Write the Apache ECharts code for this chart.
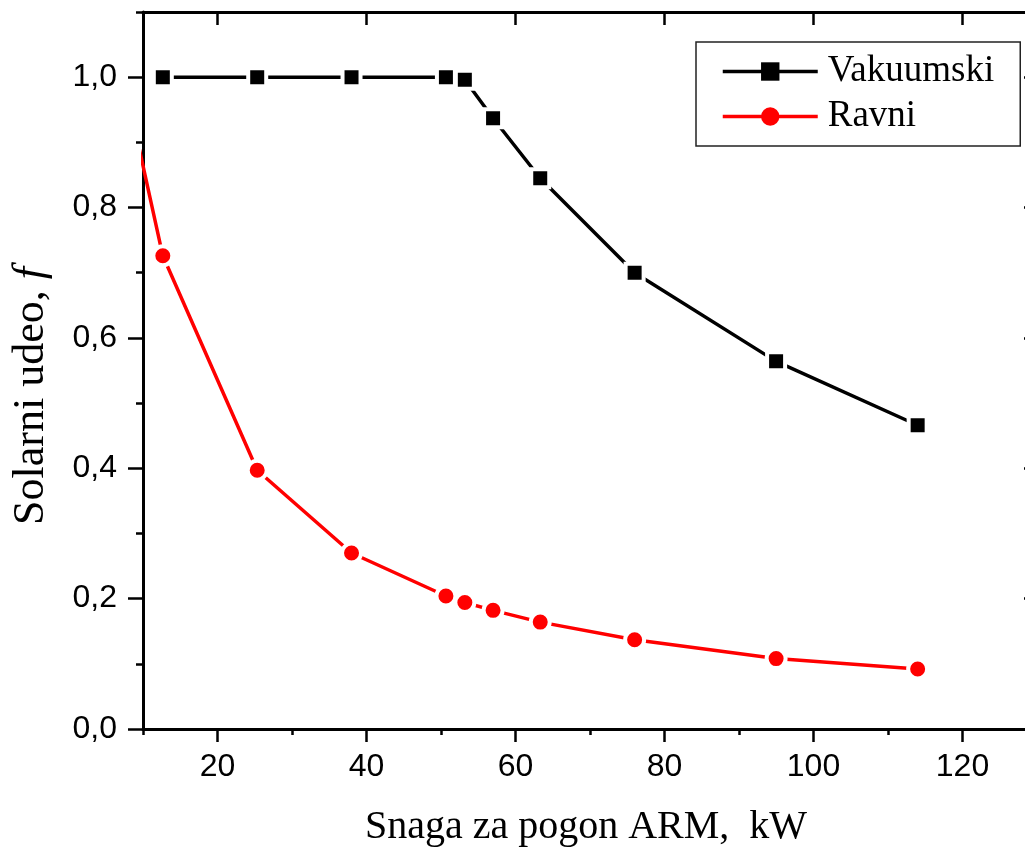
<!DOCTYPE html>
<html>
<head>
<meta charset="utf-8">
<script src="https://cdn.jsdelivr.net/npm/echarts@6/dist/echarts.min.js"></script>
<style>
  html, body { margin: 0; padding: 0; background: #fff; }
  #chart { width: 1025px; height: 852px; }
</style>
</head>
<body>
<div id="chart"></div>
<script>
// Power of the absorption chiller drive (kW)
const powerVak = [12.66, 25.33, 37.99, 50.66, 53.2, 56.99, 63.32, 75.99, 94.98, 113.98];
const fractionVak = [1.0, 1.0, 1.0, 1.0, 0.996, 0.937, 0.845, 0.700, 0.564, 0.466];

// Flat-plate collectors; the first point lies left of the visible range
const powerRavni = [8.0, 12.66, 25.33, 37.99, 50.66, 53.2, 56.99, 63.32, 75.99, 94.98, 113.98];
const fractionRavni = [0.968, 0.726, 0.397, 0.270, 0.204, 0.194, 0.182, 0.164, 0.137, 0.108, 0.092];

const seriesNames = ['Vakuumski', 'Ravni'];

const xMajorTicks = [20, 40, 60, 80, 100, 120];
const xMinorTicks = [10, 30, 50, 70, 90, 110, 130];
const yMajorTicks = [0, 0.2, 0.4, 0.6, 0.8, 1.0];
const yMinorTicks = [0.1, 0.3, 0.5, 0.7, 0.9, 1.1];

const xTitle = 'Snaga za pogon ARM,  kW';
const yTitleMain = 'Solarni udeo, ';
const yTitleSymbol = 'f';

const X_MIN = 10, X_MAX = 130, Y_MIN = 0, Y_MAX = 1.1;

const pairs = (xs, ys) => xs.map((x, i) => [x, ys[i]]);

const lineW = 3.5;
const sansFont = 'Liberation Sans';
const serifFont = 'Liberation Serif';

function xAxisDef(position, ticks, len, inside, opts) {
  return Object.assign({
    type: 'value', position: position, min: X_MIN, max: X_MAX,
    axisLine: { show: false },
    axisTick: { show: true, customValues: ticks, length: len, inside: inside,
                lineStyle: { color: '#000', width: 2.5 } },
    axisLabel: { show: false },
    splitLine: { show: false }
  }, opts || {});
}
function yAxisDef(position, ticks, len, inside, opts) {
  return Object.assign({
    type: 'value', position: position, min: Y_MIN, max: Y_MAX,
    axisLine: { show: false },
    axisTick: { show: true, customValues: ticks, length: len, inside: inside,
                lineStyle: { color: '#000', width: 2.5 } },
    axisLabel: { show: false },
    splitLine: { show: false }
  }, opts || {});
}

const chart = echarts.init(document.getElementById('chart'), null, { renderer: 'canvas' });

const option = {
  backgroundColor: '#fff',
  animation: false,
  // the frame runs a little past the right edge of the page
  grid: {
    left: 143, top: 12, width: 894, height: 717,
    containLabel: false, outerBoundsMode: 'none'
  },
  xAxis: [
    xAxisDef('bottom', xMajorTicks, 13, false, {
      axisLine: { show: true, onZero: false, lineStyle: { color: '#000', width: 3 } },
      axisLabel: {
        show: true, customValues: xMajorTicks, margin: 22,
        fontFamily: sansFont, fontSize: 32, color: '#000'
      },
      name: xTitle, nameLocation: 'middle', nameGap: 78,
      nameTextStyle: { fontFamily: serifFont, fontSize: 40, color: '#000', padding: [0, 8, 0, 0] }
    }),
    xAxisDef('bottom', xMinorTicks, 6, false),
    xAxisDef('top', xMajorTicks, 13, true, {
      axisLine: { show: true, onZero: false, lineStyle: { color: '#000', width: 3 } }
    }),
    xAxisDef('top', xMinorTicks, 6, true)
  ],
  yAxis: [
    yAxisDef('left', yMajorTicks, 15, false, {
      axisLine: { show: true, onZero: false, lineStyle: { color: '#000', width: 3 } },
      axisLabel: {
        show: true, customValues: yMajorTicks, margin: 26,
        fontFamily: sansFont, fontSize: 32, color: '#000',
        formatter: v => v.toFixed(1).replace('.', ',')
      }
    }),
    yAxisDef('left', yMinorTicks, 7, false),
    yAxisDef('right', yMajorTicks, 13, true, {
      axisLine: { show: true, onZero: false, lineStyle: { color: '#000', width: 3 } }
    }),
    yAxisDef('right', yMinorTicks, 6, true)
  ],
  legend: {
    orient: 'vertical',
    left: 696, top: 42,
    padding: [11, 26, 11, 25],
    itemGap: 8,
    itemWidth: 95,
    itemHeight: 23,
    borderColor: '#222', borderWidth: 1.5,
    backgroundColor: '#fff',
    itemStyle: { borderWidth: 0 },
    lineStyle: { width: 3.5 },
    textStyle: { fontFamily: serifFont, fontSize: 37, color: '#000', padding: [0, 0, 0, 5] },
    data: seriesNames
  },
  graphic: [{
    type: 'text',
    x: 31, y: 396,
    rotation: Math.PI / 2,
    style: {
      text: '{a|' + yTitleMain + '}{b|' + yTitleSymbol + '}',
      align: 'center', verticalAlign: 'middle',
      rich: {
        a: { fontFamily: serifFont, fontSize: 44, fill: '#000' },
        b: { fontFamily: serifFont, fontSize: 44, fontStyle: 'italic', fill: '#000' }
      }
    }
  }],
  series: [
    {
      name: seriesNames[0], type: 'line',
      data: pairs(powerVak, fractionVak),
      symbol: 'rect', symbolSize: 18,
      lineStyle: { color: '#000', width: lineW },
      itemStyle: { color: '#000', borderColor: '#fff', borderWidth: 4 },
      clip: true, z: 3
    },
    {
      name: seriesNames[1], type: 'line',
      data: pairs(powerRavni, fractionRavni),
      symbol: 'circle', symbolSize: 19,
      lineStyle: { color: '#ff0000', width: lineW },
      itemStyle: { color: '#ff0000', borderColor: '#fff', borderWidth: 4 },
      clip: true, z: 3
    }
  ]
};

chart.setOption(option);
</script>
</body>
</html>
